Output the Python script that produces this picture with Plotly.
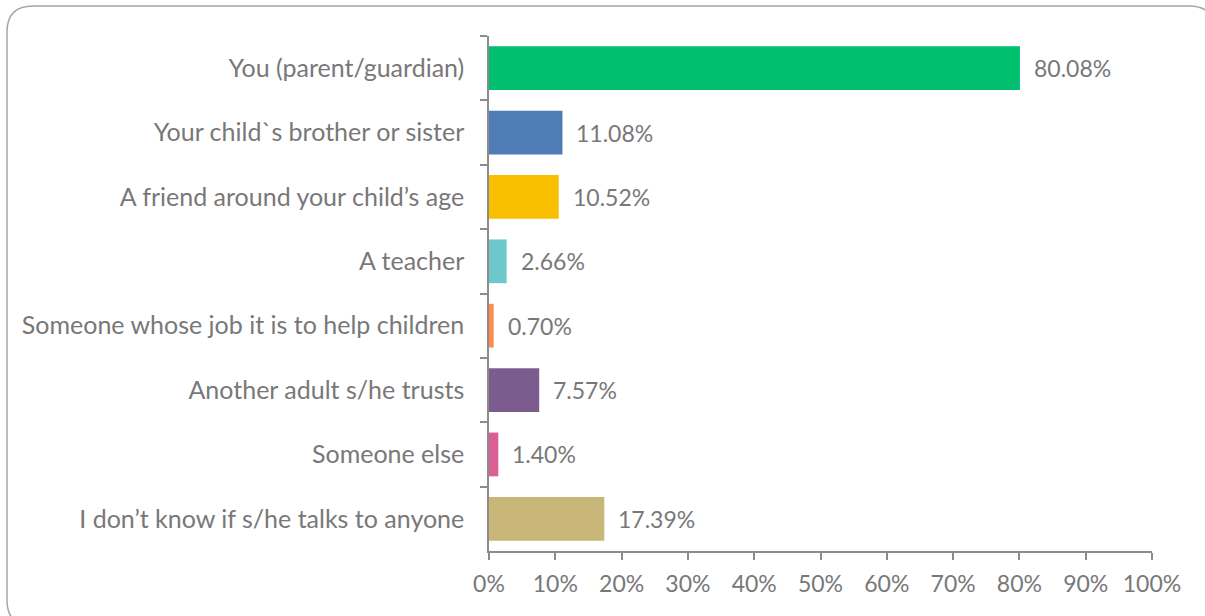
import plotly.graph_objects as go

# Survey responses: who the child talks to
categories = [
    "You (parent/guardian)",
    "Your child`s brother or sister",
    "A friend around your child’s age",
    "A teacher",
    "Someone whose job it is to help children",
    "Another adult s/he trusts",
    "Someone else",
    "I don’t know if s/he talks to anyone",
]
values = [80.08, 11.08, 10.52, 2.66, 0.70, 7.57, 1.40, 17.39]
bar_colors = ["#00BF6F", "#4F7CB5", "#F8BE00", "#6CC8CC",
              "#FF8A4C", "#7C5C8F", "#D95F95", "#C9B779"]
x_ticks = list(range(0, 101, 10))
x_tick_labels = [f"{t}%" for t in x_ticks]

W, H = 1205, 616
L, R, T, B = 489, 53, 36, 65
PW, PH = W - L - R, H - T - B
TEXT = "#787878"
FONT = "Lato"

fig = go.Figure(go.Bar(
    x=values,
    y=categories,
    orientation="h",
    marker=dict(color=bar_colors, line=dict(width=0)),
    hoverinfo="skip",
))

# value labels to the right of each bar
for cat, v in zip(categories, values):
    fig.add_annotation(
        x=v, y=cat, xref="x", yref="y",
        text=f"{v:.2f}%", showarrow=False,
        xanchor="left", xshift=12,
        font=dict(family=FONT, size=23, color=TEXT),
    )


def px(x):
    return (x - L) / PW


def py(y):
    return (H - B - y) / PH


# rounded frame around the chart
x0, x1, y0, y1, r = 7, 1215, 6, 626, 26
pts = [
    f"M {px(x0 + r)},{py(y0)}",
    f"L {px(x1 - r)},{py(y0)}",
    f"Q {px(x1)},{py(y0)} {px(x1)},{py(y0 + r)}",
    f"L {px(x1)},{py(y1 - r)}",
    f"Q {px(x1)},{py(y1)} {px(x1 - r)},{py(y1)}",
    f"L {px(x0 + r)},{py(y1)}",
    f"Q {px(x0)},{py(y1)} {px(x0)},{py(y1 - r)}",
    f"L {px(x0)},{py(y0 + r)}",
    f"Q {px(x0)},{py(y0)} {px(x0 + r)},{py(y0)}",
    "Z",
]
fig.add_shape(type="path", xref="paper", yref="paper", path=" ".join(pts),
              line=dict(color="#A6A6A6", width=1.5), layer="below")

fig.update_layout(
    width=W, height=H,
    margin=dict(l=L, r=R, t=T, b=B, autoexpand=False),
    paper_bgcolor="white", plot_bgcolor="white",
    bargap=0.32,
    showlegend=False,
    font=dict(family=FONT, color=TEXT, size=20),
    xaxis=dict(
        range=[0, 100], tickvals=x_ticks, ticktext=x_tick_labels,
        showgrid=False, zeroline=False,
        showline=True, linecolor="#8C8C8C", linewidth=1.5,
        ticks="outside", ticklen=7, tickcolor="#8C8C8C", tickwidth=1.5,
        tickfont=dict(family=FONT, size=23, color=TEXT),
        ticklabelstandoff=5,
    ),
    yaxis=dict(
        autorange="reversed", type="category",
        showgrid=False, zeroline=False,
        showline=True, linecolor="#8C8C8C", linewidth=1.5,
        ticks="outside", ticklen=7, tickcolor="#8C8C8C", tickwidth=1.5,
        tickson="boundaries",
        tickfont=dict(family=FONT, size=25, color=TEXT),
        ticklabelstandoff=18,
    ),
)

fig.write_html("out.html")
